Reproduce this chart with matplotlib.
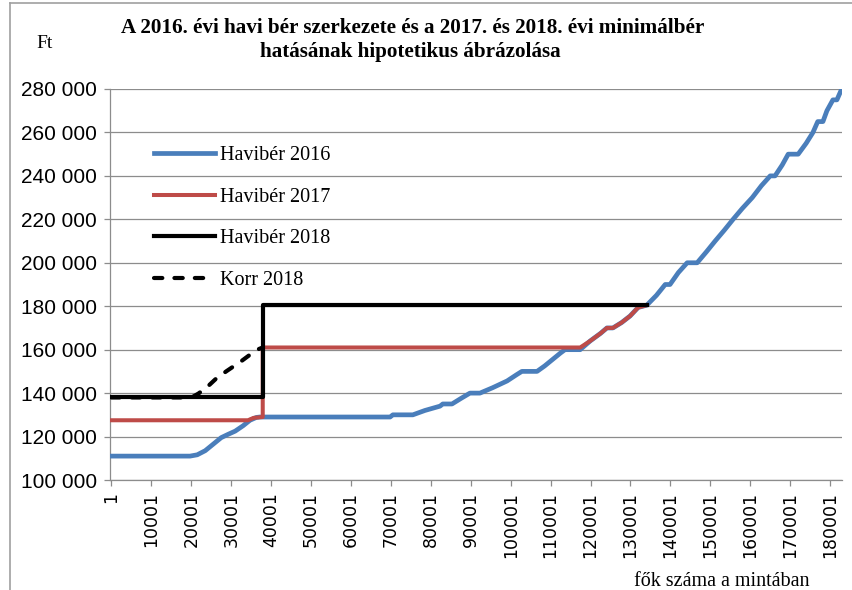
import matplotlib
matplotlib.use("Agg")
import matplotlib.pyplot as plt

# 2016 monthly wage (Ft) by sample rank
wage16_x = [1, 19700, 21500, 23500, 25500, 27500, 29200, 31000, 33000, 34700,
            36300, 37200, 69800, 70500, 75500, 78500, 82300, 83000, 85300,
            87500, 89800, 92300, 95500, 99100, 101500, 102800, 106600, 108500,
            110500, 112500, 113600, 117400, 119900, 122500, 124100, 125600,
            127800, 129900, 131900, 134100, 136500, 138700, 139900, 142000,
            144200, 146700, 149000, 151200, 153500, 155700, 158000, 160500,
            162800, 165000, 166200, 168000, 169500, 172000, 174000, 175700,
            176900, 178200, 179200, 180700, 181700, 182900]
wage16_y = [111000, 111000, 111600, 113500, 116500, 119500, 121000, 122500,
            125000, 127500, 128800, 129000, 129000, 130000, 130000, 132000,
            134000, 135000, 135000, 137500, 140000, 140000, 142500, 145600,
            148500, 150000, 150000, 152500, 155500, 158500, 160000, 160000,
            164000, 167500, 170000, 170000, 172500, 175500, 179400, 180500,
            185000, 190000, 190000, 195500, 200000, 200000, 205000, 210000,
            215000, 220000, 225000, 230000, 235500, 240000, 240000, 245000,
            250000, 250000, 255000, 260000, 265000, 265000, 270000, 275000,
            275000, 280000]

# 2017: minimum wage 127 500, guaranteed minimum 161 000
wage17_x = [1, 34200, 35600, 37900, 37900, 117400, 119900, 122500, 124100,
            125600, 127800, 129900, 131900, 134100]
wage17_y = [127500, 127500, 128600, 129000, 161000, 161000, 164000, 167500,
            170000, 170000, 172500, 175500, 179400, 180500]

# 2018: minimum wage 138 000, guaranteed minimum 180 500
wage18_x = [1, 37900, 37900, 134100]
wage18_y = [138000, 138000, 180500, 180500]

# corrected 2018 (dashed)
korr18_x = [1, 20100, 21800, 23800, 26300, 28900, 32600, 34800, 36800, 37900]
korr18_y = [138000, 138000, 139800, 142500, 146800, 150200, 154800, 157800,
            160200, 161000]

x_ticks = list(range(1, 180002, 10000))
y_ticks = list(range(100000, 280001, 20000))

BLUE = "#4A7EBB"
RED = "#BE4B48"
GRID = "#8C8C8C"

W, H = 852, 590
fig = plt.figure(figsize=(W / 100, H / 100), dpi=100)
ax = fig.add_axes([110 / W, (H - 480) / H, (841.7 - 110) / W, (480 - 89) / H])

ax.plot(wage16_x, wage16_y, color=BLUE, lw=3.4, solid_joinstyle="round",
        label="Havibér 2016", zorder=3)
ax.plot(wage17_x, wage17_y, color=RED, lw=2.9, solid_joinstyle="round",
        label="Havibér 2017", zorder=4)
ax.plot(wage18_x, wage18_y, color="black", lw=3.0, solid_joinstyle="round",
        label="Havibér 2018", zorder=5)
ax.plot(korr18_x, korr18_y, color="black", lw=3.0, ls=(0, (2.0, 2.9)),
        dash_capstyle="round", label="Korr 2018", zorder=6)

ax.set_xlim(-350, 182900)
ax.set_ylim(100000, 280000)
ax.set_xticks(x_ticks)
ax.set_xticklabels([str(v) for v in x_ticks], rotation=90,
                   fontfamily="DejaVu Sans", fontsize=12.5)
ax.set_yticks(y_ticks)
ax.set_yticklabels([f"{v // 1000} 000" for v in y_ticks],
                   fontfamily="Liberation Sans", fontsize=15)
ax.tick_params(axis="both", direction="out", length=4.5, width=0.9,
               color=GRID, pad=5)
ax.tick_params(axis="x", pad=4)
ax.yaxis.grid(True, color=GRID, lw=0.9)
ax.set_axisbelow(True)
for side in ("top", "right"):
    ax.spines[side].set_visible(False)
for side in ("left", "bottom"):
    ax.spines[side].set_color(GRID)
    ax.spines[side].set_linewidth(0.9)

leg = ax.legend(loc="upper left", bbox_to_anchor=(0.0495, 0.874), frameon=False,
                prop={"family": "Liberation Serif", "size": 14.5},
                handlelength=3.0, handletextpad=0.25, labelspacing=1.11,
                borderaxespad=0)

title_kw = dict(ha="center", va="baseline", fontfamily="Liberation Serif",
                fontweight="bold", fontsize=15.2)
fig.text(413 / W, 1 - 33 / H,
         "A 2016. évi havi bér szerkezete és a 2017. és 2018. évi minimálbér",
         **title_kw)
fig.text(410 / W, 1 - 57 / H, "hatásának hipotetikus ábrázolása", **title_kw)
fig.text(36 / W, 1 - 48 / H, "Ft", fontfamily="Liberation Serif", fontsize=14)
fig.text(722 / W, 1 - 586 / H, "fők száma a mintában", ha="center",
         va="baseline", fontfamily="Liberation Serif", fontsize=14.5)

# chart area border (left and top)
fig.add_artist(plt.Line2D([10 / W, 10 / W], [0, 1 - 3 / H], color="#A0A0A0",
                          lw=1.2))
fig.add_artist(plt.Line2D([10 / W, 1], [1 - 3 / H, 1 - 3 / H],
                          color="#A0A0A0", lw=1.2))

fig.savefig("out.png", dpi=100)
